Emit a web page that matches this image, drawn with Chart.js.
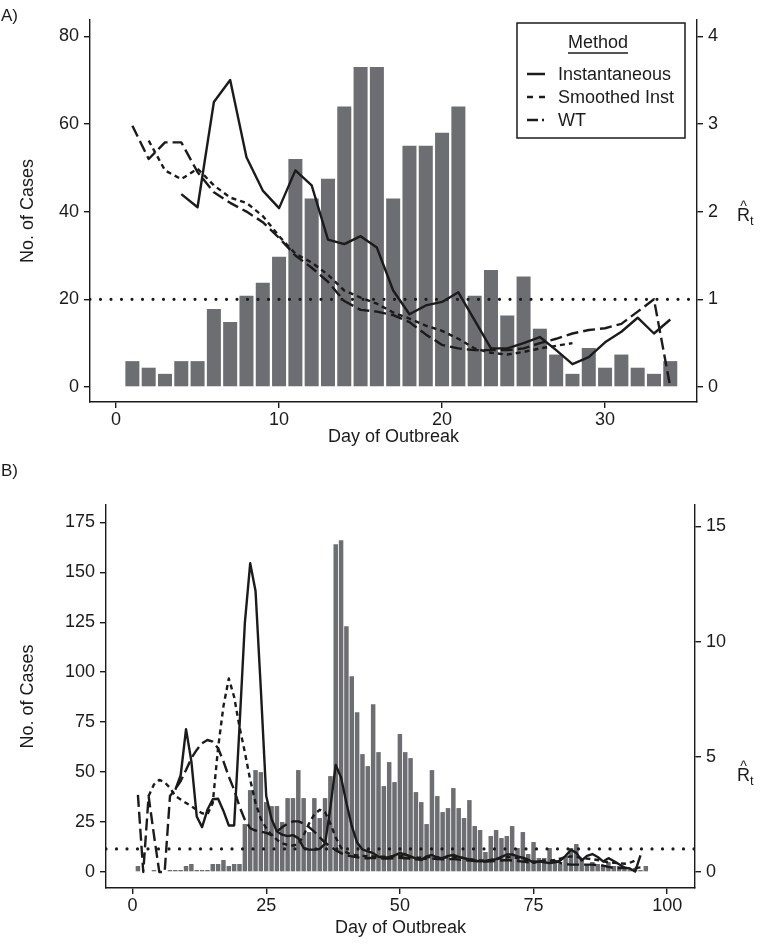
<!DOCTYPE html>
<html>
<head>
<meta charset="utf-8">
<title>Cases and Rt by day of outbreak</title>
<script src="https://cdn.jsdelivr.net/npm/chart.js@4.4.1/dist/chart.umd.min.js"></script>
<style>
  body { margin: 0; background: #fff; }
  .panel { position: absolute; left: 0; }
  #panelA { top: 0; }
  #panelB { top: 455px; }
</style>
</head>
<body>
<div class="panel" id="panelA"><canvas id="chartA" width="767" height="455"></canvas></div>
<div class="panel" id="panelB"><canvas id="chartB" width="767" height="495"></canvas></div>
<script>
const ink = '#1b1b1b';
const barGrey = '#6d6e72';
Chart.defaults.font.family = '"Liberation Sans", Arial, Helvetica, sans-serif';
Chart.defaults.font.size = 18;
Chart.defaults.color = ink;

const methods = ['Instantaneous', 'Smoothed Inst', 'WT'];

// ---- panel A ----
const aDays = [1,2,3,4,5,6,7,8,9,10,11,12,13,14,15,16,17,18,19,20,21,22,23,24,25,26,27,28,29,30,31,32,33,34];
const aCases = [5.9,4.4,3,5.9,5.9,17.8,14.8,20.8,23.8,29.7,52,43,47.5,64,73,73,43,55,55,58,64,20.8,26.7,16.3,25.2,13.3,7.4,3,8.9,4.4,7.4,4.4,3,5.9];
const aInstDays = aDays.slice(3);      // days 4-34
const aInstR = [2.2,2.05,3.25,3.5,2.62,2.24,2.04,2.47,2.3,1.68,1.63,1.72,1.59,1.1,0.83,0.93,0.97,1.08,0.76,0.44,0.44,0.5,0.57,0.42,0.26,0.34,0.51,0.63,0.79,0.61,0.77];
const aSmoothDays = aDays.slice(1, 28); // days 2-28
const aSmoothR = [2.81,2.47,2.37,2.49,2.3,2.16,2.1,1.95,1.72,1.52,1.42,1.28,1.1,1.02,0.95,0.85,0.78,0.7,0.64,0.55,0.44,0.39,0.37,0.4,0.44,0.47,0.5];
const aWtDays = aDays;                 // days 1-34
const aWtR = [2.98,2.6,2.79,2.79,2.45,2.22,2.1,2.0,1.88,1.7,1.5,1.36,1.2,0.98,0.88,0.86,0.82,0.74,0.6,0.48,0.44,0.42,0.42,0.42,0.44,0.5,0.55,0.61,0.65,0.67,0.72,0.86,1.0,0.0];
const aDayTicks = [0,10,20,30];
const aCaseTicks = [0,20,40,60,80];
const aRTicks = [0,1,2,3,4];

// ---- panel B ----
const bDays = [1,2,3,4,5,6,7,8,9,10,11,12,13,14,15,16,17,18,19,20,21,22,23,24,25,26,27,28,29,30,31,32,33,34,35,36,37,38,39,40,41,42,43,44,45,46,47,48,49,50,51,52,53,54,55,56,57,58,59,60,61,62,63,64,65,66,67,68,69,70,71,72,73,74,75,76,77,78,79,80,81,82,83,84,85,86,87,88,89,90,91,92,93,94,95,96];
const bCases = [3,0,0,1,0,0,1,1,1,3, 4,1,1,1,4,4,6,3,4,4, 24,41,51,50,35,33,33,25,37,37,
  51,37,20,37,27,37,48,164,166,123, 98,80,59,53,84,60,43,55,45,69, 60,57,40,35,24,51,38,30,32,42,
  32,27,36,23,21,10,18,21,17,18, 23,12,20,9,15,7,7,12,5,4, 8,12,14,7,4,5,4,3,5,3, 3,2,1,2,1,3];
const bInstDays = bDays.slice(7, 95);   // days 8-95
const bInstR = [3.57,4.2,6.2,4.8,2.41,1.95,2.7,3.16,3.18,2.65,
  2.02,2.02,6.3,10.8,13.4,12.2,7.9,3.3,2.3,1.76,
  1.62,1.56,1.6,1.47,1.04,0.97,0.97,1.0,1.22,2.8,
  4.65,4.1,3.0,2.0,1.28,0.98,0.9,0.82,0.66,0.62,
  0.64,0.72,0.82,0.76,0.68,0.58,0.52,0.68,0.74,0.62,
  0.6,0.7,0.74,0.66,0.6,0.55,0.5,0.46,0.48,0.52,
  0.56,0.66,0.76,0.76,0.68,0.62,0.54,0.4,0.46,0.42,
  0.39,0.42,0.5,0.7,0.97,0.83,0.5,0.7,0.78,0.65,
  0.46,0.6,0.48,0.34,0.2,0.15,0.02,0.72];
const bSmoothDays = bDays.slice(2, 94); // days 3-94
const bSmoothR = [3.3,3.8,4.0,3.9,3.65,3.3,3.15,3.0,2.85,2.7,
  2.55,2.5,3.0,5.4,7.2,8.4,7.6,6.3,5.2,4.0,
  3.0,2.3,1.9,1.6,1.4,1.25,1.17,1.15,1.2,1.6,
  2.1,2.5,2.7,2.6,2.1,1.5,1.05,0.85,0.75,0.72,
  0.7,0.68,0.68,0.66,0.66,0.66,0.68,0.7,0.68,0.64,
  0.62,0.62,0.64,0.66,0.64,0.62,0.64,0.66,0.64,0.6,
  0.56,0.52,0.5,0.5,0.52,0.55,0.6,0.64,0.64,0.6,
  0.56,0.5,0.46,0.44,0.44,0.46,0.52,0.58,0.64,0.68,
  0.66,0.6,0.58,0.56,0.52,0.46,0.42,0.4,0.38,0.36,
  0.4,0.5];
const bWtDays = bDays.slice(0, 95);     // days 1-95
const bWtR = [3.35,0,3.3,1.6,0,0,3.3,3.6,3.95,4.43,
  4.94,5.3,5.59,5.73,5.66,5.37,4.8,4.14,3.57,2.84,
  2.27,1.9,1.8,1.75,1.7,1.6,1.75,1.95,2.1,2.2,
  2.2,2.1,1.95,1.75,1.5,1.28,1.1,0.95,0.82,0.72,
  0.68,0.64,0.6,0.6,0.62,0.6,0.58,0.58,0.6,0.62,
  0.6,0.58,0.55,0.55,0.58,0.58,0.56,0.55,0.56,0.56,
  0.54,0.52,0.5,0.48,0.46,0.45,0.46,0.48,0.5,0.52,
  0.5,0.48,0.45,0.42,0.42,0.45,0.5,0.52,0.48,0.4,
  0.34,0.32,0.32,0.32,0.32,0.32,0.3,0.28,0.22,0.18,
  0.17,0.17,0.17,0.17,0.2];
const bDayTicks = [0,25,50,75,100];
const bCaseTicks = [0,25,50,75,100,125,150,175];
const bRTicks = [0,5,10,15];

function xy(days, vals) {
  return vals.map((v, i) => ({ x: days[i], y: v }));
}

// boxed "Method" key in the upper right of panel A
const methodKey = {
  id: 'methodKey',
  afterDraw(chart, args, opts) {
    if (!opts.show) return;
    const ctx = chart.ctx, area = chart.chartArea;
    const x0 = area.right - 180, y0 = area.top + 3, w = 168, h = 115;
    ctx.save();
    ctx.fillStyle = '#fff';
    ctx.fillRect(x0, y0, w, h);
    ctx.strokeStyle = ink;
    ctx.lineWidth = 1.5;
    ctx.strokeRect(x0, y0, w, h);
    ctx.fillStyle = ink;
    ctx.font = '18px ' + Chart.defaults.font.family;
    ctx.textAlign = 'center';
    ctx.textBaseline = 'middle';
    ctx.fillText('Method', x0 + 81, y0 + 20);
    const tw = ctx.measureText('Method').width;
    ctx.lineWidth = 1.3;
    ctx.beginPath();
    ctx.moveTo(x0 + 81 - tw / 2, y0 + 30);
    ctx.lineTo(x0 + 81 + tw / 2, y0 + 30);
    ctx.stroke();
    ctx.textAlign = 'left';
    chart.data.datasets.filter(d => d.inKey).forEach((d, i) => {
      const y = y0 + 51 + i * 23;
      ctx.setLineDash(d.keyDash);
      ctx.lineWidth = 2.5;
      ctx.beginPath();
      ctx.moveTo(x0 + 10, y);
      ctx.lineTo(x0 + 28, y);
      ctx.stroke();
      ctx.setLineDash([]);
      ctx.fillText(d.label, x0 + 41, y + 1);
    });
    ctx.restore();
  }
};

// panel letter and the R-hat-t label on the right axis
const sideText = {
  id: 'sideText',
  afterDraw(chart, args, opts) {
    const ctx = chart.ctx, area = chart.chartArea;
    const fam = Chart.defaults.font.family;
    ctx.save();
    ctx.fillStyle = ink;
    ctx.textBaseline = 'alphabetic';
    ctx.textAlign = 'left';
    ctx.font = '17px ' + fam;
    ctx.fillText(opts.panel, 1, opts.panelY);
    const rx = opts.rX, ry = area.top + opts.rY;
    ctx.font = '18px ' + fam;
    ctx.fillText('R', rx, ry);
    ctx.font = '13px ' + fam;
    ctx.fillText('t', rx + 13, ry + 4);
    ctx.textAlign = 'center';
    ctx.font = '14px ' + fam;
    ctx.fillText('^', rx + 6.5, ry - 10);
    ctx.restore();
  }
};

function lineSet(label, days, vals, dash, keyDash) {
  return {
    type: 'line', label: label, yAxisID: 'yR', data: xy(days, vals),
    borderColor: ink, borderWidth: 2.4, borderDash: dash, borderJoinStyle: 'round',
    pointRadius: 0, tension: 0, fill: false, order: 1, inKey: true, keyDash: keyDash
  };
}

function buildPanel(p) {
  const tickGrid = { display: true, drawOnChartArea: false, drawTicks: true, tickLength: 6,
                     color: ink, lineWidth: 1.4, offset: false };
  const border = { display: true, color: ink, width: 1.4 };
  const fixTicks = list => s => { s.ticks = list.map(v => ({ value: v })); };
  return new Chart(document.getElementById(p.id), {
    type: 'bar',
    data: {
      datasets: [
        lineSet(methods[0], p.instDays, p.instR, [], []),
        lineSet(methods[1], p.smoothDays, p.smoothR, [5, 4], [6, 6]),
        lineSet(methods[2], p.wtDays, p.wtR, [12, 5], [11, 4, 2, 10]),
        {
          type: 'line', label: 'R = 1', yAxisID: 'yR',
          data: [{ x: p.xMin, y: 1 }, { x: p.xMax, y: 1 }],
          borderColor: ink, borderWidth: 3.2, borderDash: [0, 10.5], borderCapStyle: 'round',
          pointRadius: 0, fill: false, order: 1
        },
        {
          type: 'bar', label: 'Cases', yAxisID: 'yL', data: xy(p.days, p.cases),
          backgroundColor: barGrey, borderWidth: 0,
          barPercentage: p.barPct, categoryPercentage: 1, order: 2
        }
      ]
    },
    options: {
      responsive: false,
      animation: false,
      layout: { padding: { top: p.top, left: 0, right: 0, bottom: 0 } },
      plugins: {
        legend: { display: false },
        tooltip: { enabled: false },
        methodKey: { show: p.key },
        sideText: { panel: p.panel, panelY: 21, rX: p.rX, rY: p.rY }
      },
      scales: {
        x: {
          type: 'linear', min: p.xMin, max: p.xMax, offset: false,
          grid: tickGrid, border: border,
          ticks: { padding: 1, color: ink, font: { size: 18 } },
          afterBuildTicks: fixTicks(p.dayTicks),
          afterFit: s => { s.height = p.bottomH; },
          title: { display: true, text: 'Day of Outbreak', color: ink, font: { size: 18 },
                   padding: { top: 0, bottom: p.xTitlePad } }
        },
        yL: {
          type: 'linear', position: 'left', min: p.caseMin, max: p.caseMax,
          grid: tickGrid, border: border,
          ticks: { padding: 5, color: ink, font: { size: 18 } },
          afterBuildTicks: fixTicks(p.caseTicks),
          afterFit: s => { s.width = p.leftW; },
          title: { display: true, text: 'No. of Cases', color: ink, font: { size: 18 },
                   padding: { top: 17, bottom: 0 } }
        },
        yR: {
          type: 'linear', position: 'right', min: p.rMin, max: p.rMax,
          grid: tickGrid, border: border,
          ticks: { padding: 5, color: ink, font: { size: 18 } },
          afterBuildTicks: fixTicks(p.rTicks),
          afterFit: s => { s.width = p.rightW; }
        }
      }
    },
    plugins: [methodKey, sideText]
  });
}

buildPanel({
  id: 'chartA', panel: 'A)', key: true,
  days: aDays, cases: aCases,
  instDays: aInstDays, instR: aInstR, smoothDays: aSmoothDays, smoothR: aSmoothR, wtDays: aWtDays, wtR: aWtR,
  dayTicks: aDayTicks, caseTicks: aCaseTicks, rTicks: aRTicks,
  xMin: -1.6, xMax: 35.64, caseMin: -3.42, caseMax: 83.7, rMin: -0.171, rMax: 4.185,
  top: 20, leftW: 90, rightW: 70, bottomH: 53, xTitlePad: 7, barPct: 0.86, rX: 737, rY: 201
});

buildPanel({
  id: 'chartB', panel: 'B)', key: false,
  days: bDays, cases: bCases,
  instDays: bInstDays, instR: bInstR, smoothDays: bSmoothDays, smoothR: bSmoothR, wtDays: bWtDays, wtR: bWtR,
  dayTicks: bDayTicks, caseTicks: bCaseTicks, rTicks: bRTicks,
  xMin: -4.97, xMax: 105.2, caseMin: -8, caseMax: 183.65, rMin: -0.694, rMax: 15.93,
  top: 50, leftW: 106, rightW: 72, bottomH: 62, xTitlePad: 11, barPct: 0.84, rX: 737, rY: 276
});
</script>
</body>
</html>
